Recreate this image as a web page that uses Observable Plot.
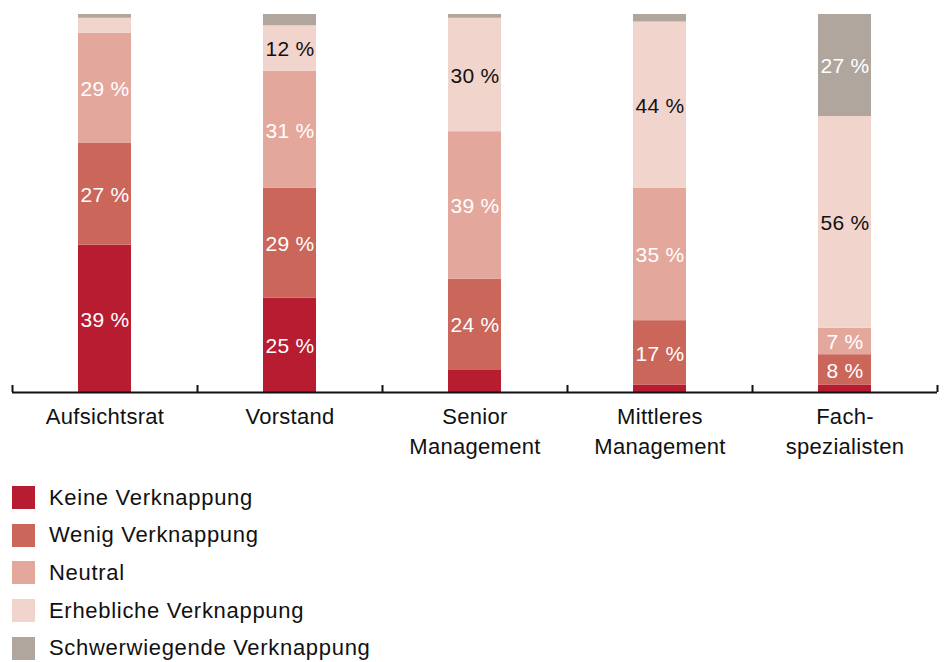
<!DOCTYPE html>
<html><head><meta charset="utf-8">
<script src="https://cdn.jsdelivr.net/npm/d3@7"></script>
<script src="https://cdn.jsdelivr.net/npm/@observablehq/plot@0.6"></script>
<style>
body{margin:0;background:#fff;font-family:"Liberation Sans",Arial,sans-serif;color:#111;}
#chart svg{display:block;}
.legend{padding:16px 0 0 12px;}
.row{display:flex;align-items:center;height:23px;margin-bottom:14.7px;font-size:22px;letter-spacing:0.7px;}
.sw{width:23px;height:23px;margin-right:14px;flex:none;}
</style></head><body>
<div id="chart"></div>
<div class="legend" id="legend"></div>
<script>
const categories = ["Aufsichtsrat","Vorstand","Senior Management","Mittleres Management","Fachspezialisten"];
const tickLabels = ["Aufsichtsrat","Vorstand","Senior\nManagement","Mittleres\nManagement","Fach-\nspezialisten"];
const series = ["Keine Verknappung","Wenig Verknappung","Neutral","Erhebliche Verknappung","Schwerwiegende Verknappung"];
const colors = ["#b81c31","#cb665b","#e4a79c","#f1d4cc","#b0a69d"];
const keine     = [39,25, 6, 2, 2];
const wenig     = [27,29,24,17, 8];
const neutral   = [29,31,39,35, 7];
const erheblich = [ 4,12,30,44,56];
const schwer    = [ 1, 3, 1, 2,27];
const seriesValues = [keine, wenig, neutral, erheblich, schwer];

const data = [];
series.forEach((s, si) => categories.forEach((c, ci) => data.push({cat: c, series: s, value: seriesValues[si][ci]})));

const W = 947, H = 470, mL = 12, mR = 10, mT = 14, mB = 78;
const step = (W - mL - mR) / categories.length;
const plotH = H - mT - mB;
const darkLabel = "Erhebliche Verknappung";
const fmt = d => d.value >= 7 ? `${d.value} %` : null;

const chart = Plot.plot({
  width: W, height: H,
  marginLeft: mL, marginRight: mR, marginTop: mT, marginBottom: mB,
  style: {fontFamily: '"Liberation Sans", Arial, sans-serif', letterSpacing: "0.3px", background: "white"},
  x: {domain: categories, paddingInner: 0.7135, paddingOuter: 0.35675, axis: null},
  y: {domain: [0, 100], axis: null},
  color: {domain: series, range: colors},
  marks: [
    Plot.barY(data, {x: "cat", y: "value", fill: "series"}),
    Plot.text(data, Plot.stackY({x: "cat", y: "value", text: d => d.series !== darkLabel ? fmt(d) : null, fill: "white", fontSize: 21, dy: 1})),
    Plot.text(data, Plot.stackY({x: "cat", y: "value", text: d => d.series === darkLabel ? fmt(d) : null, fill: "#111", fontSize: 21, dy: 1})),
    Plot.ruleY([0], {stroke: "#111", strokeWidth: 2}),
    Plot.ruleX(categories, {x: d => d, dx: -step / 2, insetTop: plotH - 7, stroke: "#111", strokeWidth: 2}),
    Plot.ruleX([categories[categories.length - 1]], {x: d => d, dx: step / 2, insetTop: plotH - 7, stroke: "#111", strokeWidth: 2}),
    Plot.text(categories, {x: d => d, text: (d, i) => tickLabels[i], frameAnchor: "bottom", lineAnchor: "top", dy: 9.5, fontSize: 22, lineHeight: 1.38, fill: "#111"})
  ]
});
document.getElementById("chart").appendChild(chart);

const legend = document.getElementById("legend");
series.forEach((s, i) => {
  const row = document.createElement("div");
  row.className = "row";
  const sw = document.createElement("span");
  sw.className = "sw";
  sw.style.background = colors[i];
  const t = document.createElement("span");
  t.textContent = s;
  row.appendChild(sw);
  row.appendChild(t);
  legend.appendChild(row);
});
</script>
</body></html>
